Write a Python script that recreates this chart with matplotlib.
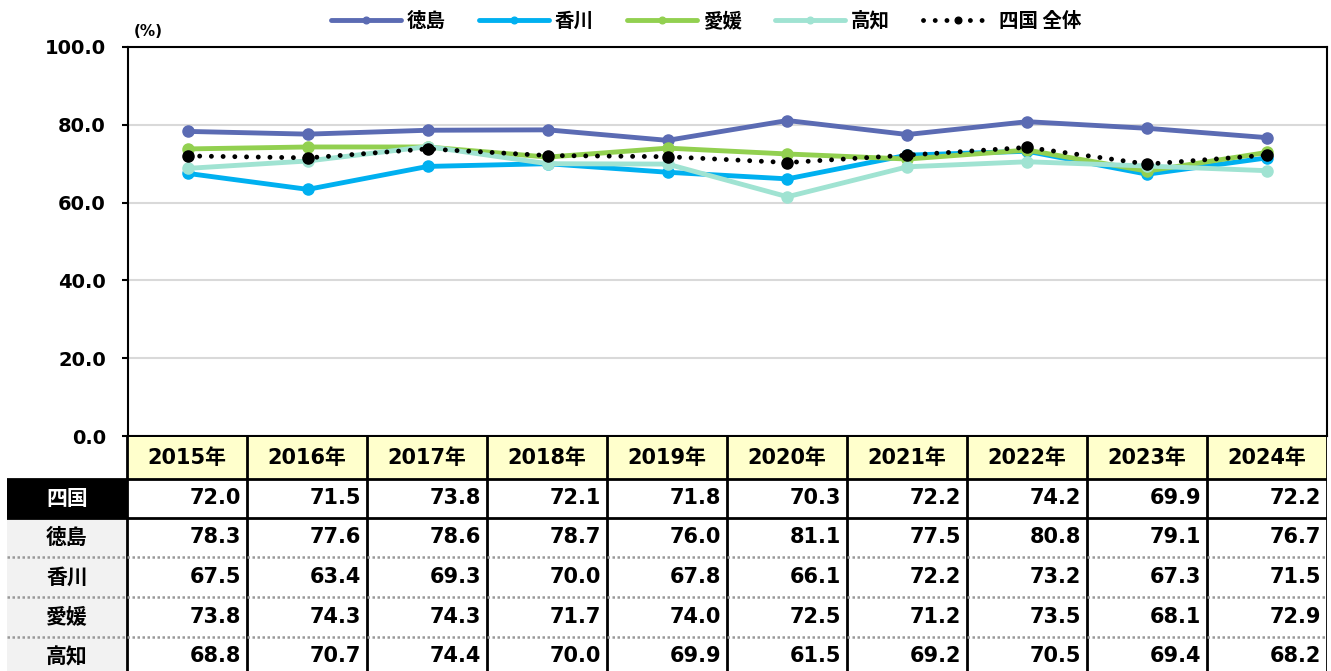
import matplotlib
matplotlib.use('Agg')
import matplotlib.pyplot as plt
from matplotlib.patches import Rectangle

plt.rcParams['font.family'] = ['DejaVu Sans', 'Noto Sans CJK JP']
plt.rcParams['font.weight'] = 'bold'

# data
years = ['2015年', '2016年', '2017年', '2018年', '2019年', '2020年', '2021年', '2022年', '2023年', '2024年']
shikoku = [72.0, 71.5, 73.8, 72.1, 71.8, 70.3, 72.2, 74.2, 69.9, 72.2]
tokushima = [78.3, 77.6, 78.6, 78.7, 76.0, 81.1, 77.5, 80.8, 79.1, 76.7]
kagawa = [67.5, 63.4, 69.3, 70.0, 67.8, 66.1, 72.2, 73.2, 67.3, 71.5]
ehime = [73.8, 74.3, 74.3, 71.7, 74.0, 72.5, 71.2, 73.5, 68.1, 72.9]
kochi = [68.8, 70.7, 74.4, 70.0, 69.9, 61.5, 69.2, 70.5, 69.4, 68.2]

row_names = ['四国', '徳島', '香川', '愛媛', '高知']
row_data = [shikoku, tokushima, kagawa, ehime, kochi]

W, H = 1331, 671
fig = plt.figure(figsize=(W / 100, H / 100), dpi=100)


def box(l, t, r, b):
    return [l / W, 1 - b / H, (r - l) / W, (b - t) / H]


#line chart
ax = fig.add_axes(box(128, 47, 1327, 436))
x = list(range(len(years)))
series = [('徳島', tokushima, '#5B6BB3'),
          ('香川', kagawa, '#00B0F0'),
          ('愛媛', ehime, '#92D050'),
          ('高知', kochi, '#A0E3D2')]
handles = []
for name, vals, col in series:
    h, = ax.plot(x, vals, color=col, lw=3.5, marker='o', ms=8, solid_capstyle='round', label=name)
    handles.append(h)
h, = ax.plot(x, shikoku, color='black', lw=3.5, ls=(0, (0.01, 2.4)), dash_capstyle='round',
             marker='o', ms=8, label='四国 全体', zorder=5)
handles.append(h)

ax.set_xlim(-0.5, len(years) - 0.5)
ax.set_ylim(0, 100)
ax.set_yticks([0, 20, 40, 60, 80, 100])
ax.set_yticklabels(['%.1f' % v for v in [0, 20, 40, 60, 80, 100]], fontsize=14, fontweight='bold')
ax.set_xticks([])
ax.tick_params(axis='y', direction='out', length=4, width=1.5, pad=12)
ax.grid(axis='y', color='#D9D9D9', lw=1.5)
ax.set_axisbelow(True)
for s in ax.spines.values():
    s.set_color('black')
    s.set_linewidth(1.5)

fig.text(134 / W, 1 - 32 / H, '(%)', fontsize=11, fontweight='bold', va='center', ha='left')

fig.legend(handles=handles, loc='center', bbox_to_anchor=(706 / W, 1 - 21 / H), ncol=5,
           frameon=False, prop={'family': ['Noto Sans CJK JP'], 'size': 14, 'weight': 'bold'},
           handlelength=3.6, handletextpad=0.3, columnspacing=1.7, markerscale=0.6)

#data table
tb = fig.add_axes(box(7, 437, 1327, 671))
tb.set_xlim(-1.5, len(years) - 0.5)
tb.set_ylim(671, 437)
tb.axis('off')
edges = [437, 479, 518, 557, 597, 637, 676]
fs = 15

for i, yr in enumerate(years):
    tb.add_patch(Rectangle((i - 0.5, edges[0]), 1, edges[1] - edges[0], fc='#FFFFCC', ec='none'))
    tb.text(i, (edges[0] + edges[1]) / 2, yr, ha='center', va='center', fontsize=fs, fontweight='bold')

for r, (name, vals) in enumerate(zip(row_names, row_data)):
    top, bot = edges[r + 1], edges[r + 2]
    mid = (top + bot) / 2
    if r == 0:
        tb.add_patch(Rectangle((-1.5, top), 1, bot - top, fc='black', ec='none'))
        tb.text(-1, mid, name, ha='center', va='center', fontsize=fs, fontweight='bold', color='white',
                family=['Noto Sans CJK JP'])
    else:
        tb.add_patch(Rectangle((-1.5, top), 1, bot - top, fc='#F2F2F2', ec='none'))
        tb.text(-1, mid, name, ha='center', va='center', fontsize=fs, fontweight='bold',
                family=['Noto Sans CJK JP'])
    for i, v in enumerate(vals):
        tb.text(i + 0.45, mid, '%.1f' % v, ha='right', va='center', fontsize=fs, fontweight='bold')

# grid lines of the table
for i in range(len(years) + 1):
    tb.plot([i - 0.5, i - 0.5], [edges[0], 671], color='black', lw=2)
tb.plot([-1.5, 9.5], [edges[1], edges[1]], color='black', lw=2)
tb.plot([-1.5, 9.5], [edges[2], edges[2]], color='black', lw=2)
for e in edges[3:6]:
    tb.plot([-1.5, 9.5], [e, e], color='#999999', lw=1.8, ls=(0, (1, 1)))

fig.savefig('out.png', dpi=100)
